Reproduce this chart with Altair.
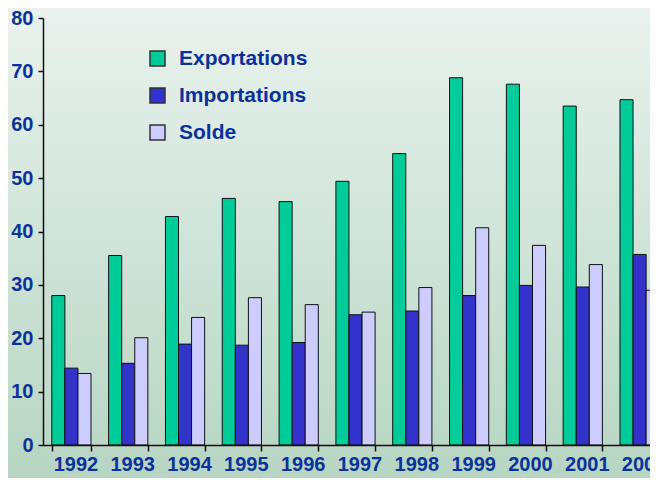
import altair as alt
import pandas as pd

years = ["1992", "1993", "1994", "1995", "1996", "1997", "1998", "1999", "2000", "2001", "2002"]
exportations = [28.0, 35.5, 42.8, 46.2, 45.6, 49.4, 54.6, 68.8, 67.6, 63.5, 64.7]
importations = [14.4, 15.3, 18.9, 18.7, 19.2, 24.4, 25.1, 28.0, 29.9, 29.6, 35.7]
solde = [13.4, 20.1, 23.9, 27.6, 26.3, 24.9, 29.5, 40.7, 37.4, 33.8, 29.0]
series = ["Exportations", "Importations", "Solde"]
colors = ["#00CC99", "#3333CC", "#CCCCFF"]
y_ticks = [0, 10, 20, 30, 40, 50, 60, 70, 80]

rows = []
for name, vals in zip(series, [exportations, importations, solde]):
    for yr, v in zip(years, vals):
        rows.append({"year": yr, "series": name, "value": v})
df = pd.DataFrame(rows)

TEXT = "#0a3399"
FONT = "Liberation Sans"
PW, PH = 607, 427
PL, PT, PB = 35, 10, 33

bg = alt.Chart(pd.DataFrame({"a": [0]})).mark_rect(
    color=alt.Gradient(
        gradient="linear", x1=0, x2=0, y1=0, y2=1,
        stops=[alt.GradientStop(color="#e9f2ee", offset=0),
               alt.GradientStop(color="#b7d5c3", offset=1)],
    )
).encode(x=alt.value(-PL), x2=alt.value(PW), y=alt.value(-PT), y2=alt.value(PH + PB))

bars = alt.Chart(df).mark_bar(stroke="#111111", strokeWidth=1).encode(
    x=alt.X("year:N", sort=years,
            scale=alt.Scale(range=[0, 625], paddingInner=0.31, paddingOuter=0.155),
            axis=alt.Axis(title=None, labelAngle=0, tickBand="extent", tickSize=6,
                          labelPadding=3, labelOffset=4, labelFontSize=20, labelFontWeight="bold",
                          labelColor=TEXT, labelFont=FONT, domainColor="#111111",
                          domainWidth=1.5, tickColor="#111111", tickWidth=1.5, zindex=2)),
    xOffset=alt.XOffset("series:N", sort=series,
                        scale=alt.Scale(paddingInner=0, paddingOuter=0)),
    y=alt.Y("value:Q", scale=alt.Scale(domain=[0, 80], nice=False),
            axis=alt.Axis(title=None, values=y_ticks, grid=False, tickSize=5,
                          labelPadding=5, labelFontSize=20, labelFontWeight="bold",
                          labelColor=TEXT, labelFont=FONT, domainColor="#111111",
                          domainWidth=1.5, tickColor="#111111", tickWidth=1.5, zindex=2)),
    color=alt.Color("series:N", sort=series,
                    scale=alt.Scale(domain=series, range=colors),
                    legend=alt.Legend(title=None, orient="none", legendX=104, legendY=30,
                                      symbolType="square", symbolSize=225,
                                      symbolStrokeColor="#333333", symbolStrokeWidth=1.5,
                                      labelFontSize=21, labelFontWeight="bold",
                                      labelColor=TEXT, labelFont=FONT, labelOffset=11,
                                      rowPadding=15, padding=0)),
)

chart = alt.layer(bg, bars).properties(
    width=PW, height=PH,
    padding={"left": PL, "top": PT, "right": 0, "bottom": PB},
    autosize=alt.AutoSizeParams(type="none"),
).configure_view(stroke="transparent").configure(background="#e9f2ee")

chart.save("out.html", embed_options={"renderer": "svg", "actions": False})
